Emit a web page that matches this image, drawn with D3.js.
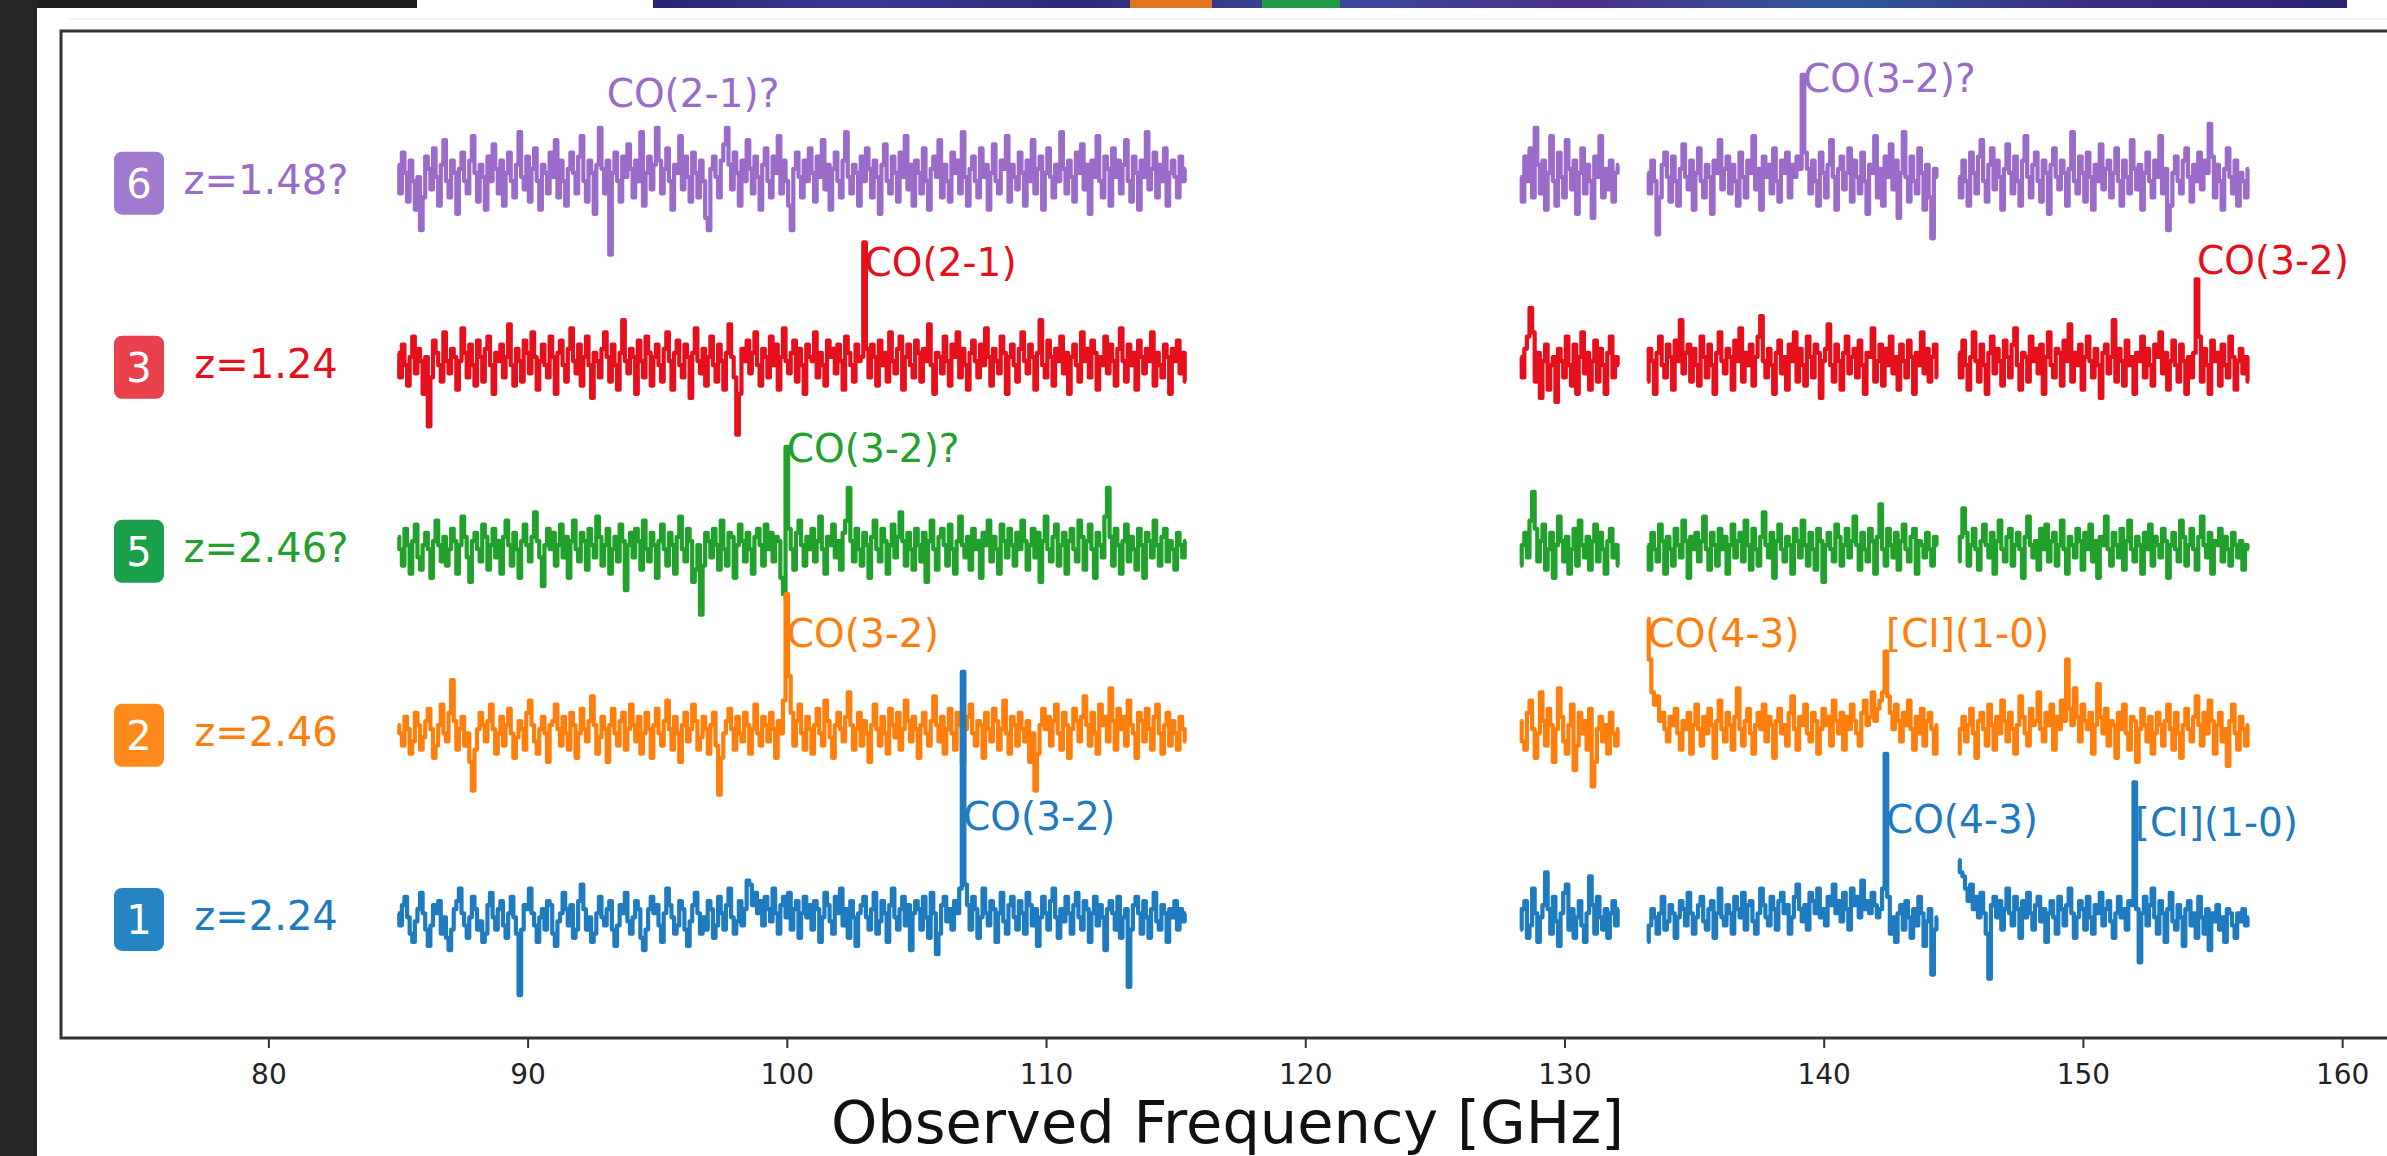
<!DOCTYPE html>
<html>
<head>
<meta charset="utf-8">
<script src="https://cdn.jsdelivr.net/npm/d3@7"></script>
<style>
  html, body { margin: 0; padding: 0; background: #ffffff; overflow: hidden; }
  svg text { font-family: "DejaVu Sans", sans-serif; }
</style>
</head>
<body>
<svg id="chart" width="2387" height="1156"></svg>
<script>
// Channel grid: start frequency of each observed window (GHz) and channel width
const windowStarts = [85.0, 128.3, 133.2, 145.2];
const channelWidth = 0.1;

// Sources, top to bottom
const sources = ["6", "3", "5", "2", "1"];
const redshifts = ["z=1.48?", "z=1.24", "z=2.46?", "z=2.46", "z=2.24"];
const offsets = [180, 135, 90, 45, 0];
const lineColors = ["#9a6bc9", "#e5101c", "#22a02c", "#ff7f0e", "#1f7bbf"];
const badgeColors = ["#9f7ace", "#e8414b", "#1aa04a", "#ff8a1c", "#2585c3"];

const xTicks = [80, 90, 100, 110, 120, 130, 140, 150, 160];

// ---- flux density (arbitrary units), one array per source and window ----
// source 6
const s6w1 = [5,-2,8,3,-4,6,1,-6,2,-11,-3,7,4,-1,9,2,-5,5,11,1,
  -3,6,3,-7,4,8,1,-2,6,12,3,-4,5,2,-6,7,1,10,4,-2,
  6,-5,3,8,1,-3,5,13,2,-1,7,-4,4,9,1,-6,5,3,-2,8,
  2,11,-3,6,1,-5,4,8,3,-2,7,12,1,-4,6,3,-7,5,14,4,
  -2,6,-17,3,8,1,-4,7,2,10,4,-3,6,1,13,-5,3,7,-1,5,
  14,6,-2,4,9,1,-6,5,3,12,-1,7,2,-4,8,3,-3,6,1,-8,
  -11,4,7,2,-3,6,10,14,5,-1,8,3,-5,6,1,11,4,-2,7,2,
  -6,5,9,1,-3,7,3,12,-2,6,1,-5,-11,4,8,2,-3,6,1,9,
  3,-4,7,2,11,-1,5,-6,4,8,1,-3,6,13,2,-2,5,3,-5,7,
  1,9,4,-3,6,2,-7,5,10,1,-2,7,3,-4,8,2,12,-1,5,-5,
  6,3,-2,9,1,-6,4,7,2,11,-3,5,1,-4,8,3,6,-2,13,2,
  -5,4,7,1,-3,9,2,5,-6,3,10,1,-2,6,4,12,-4,5,2,-1,
  8,3,-5,6,1,11,-2,4,7,-6,3,9,2,-3,5,1,13,4,-2,6,
  2,-4,8,3,10,-1,5,-7,6,2,12,1,-3,7,4,-5,9,2,6,-2,
  5,11,1,-4,7,3,-6,6,2,13,-1,4,8,-3,5,1,9,-5,3,6,
  2,-3,7,1,4];
const s6w2 = [2,-4,7,1,9,-3,14,5,-2,6,-6,3,12,1,-5,8,2,-3,11,4,-1,6,-7,3,9,-2,5,1,-8,7,2,12,-3,4,-1,6,-4,3,5];
const s6w3 = [3,-2,6,1,-12,-3,5,8,2,-4,7,1,-5,4,10,2,-1,6,-6,3,
  9,1,-3,5,2,-7,6,3,11,-1,4,7,-2,5,1,-5,8,2,-3,6,
  3,12,-1,4,-6,7,2,5,-2,9,1,-4,6,3,8,-3,5,2,7,4,
  27,8,4,-2,6,1,-5,8,3,-3,5,11,2,-6,4,7,-1,3,9,-4,
  6,2,-2,8,1,-7,5,3,12,-3,4,-5,7,2,10,-1,6,-8,3,13,
  2,-4,7,1,-2,9,3,-6,5,-3,-13,4,2];
const s6w4 = [2,-3,6,1,-5,8,3,-2,7,11,1,-4,5,9,-1,6,2,-6,4,10,
  3,-2,7,1,-5,6,12,2,-3,5,8,1,-4,6,3,-7,5,9,2,-1,
  6,3,-5,4,13,1,-2,7,3,-4,8,2,-6,5,1,10,-1,4,6,-3,
  3,9,1,-5,6,2,-2,11,4,-1,5,-6,3,8,1,-3,6,2,12,-2,
  4,-11,-5,3,7,1,-2,6,9,2,-4,5,1,8,-1,6,3,15,7,-3,
  5,1,-6,4,9,2,-2,6,-5,3,1,-3,4];

// source 3
const s3w1 = [4,-2,6,1,-4,3,8,-1,5,2,-6,3,-14,-2,7,4,1,-3,9,2,
  -1,5,3,-5,2,10,4,-2,6,1,-4,7,3,-3,5,8,1,-6,4,2,
  6,-2,3,11,1,-4,5,2,-3,7,4,-1,9,3,-5,2,6,1,-2,8,
  3,-6,4,7,1,-3,5,10,2,-1,6,-4,3,8,1,-7,4,2,-2,5,
  9,3,-3,6,1,-5,4,12,2,-1,5,3,-6,7,2,-2,8,4,-4,3,
  6,1,-3,5,9,2,-5,4,7,1,-2,6,3,-7,4,10,2,-1,5,-4,
  3,8,1,-3,6,2,-5,4,11,3,-2,-16,-6,5,2,7,-1,4,9,1,
  -4,5,3,-2,8,1,6,-5,3,10,2,-1,4,7,-3,5,1,-6,6,3,
  2,9,-2,4,1,-4,7,3,5,-1,6,2,-5,8,4,1,-3,6,2,3,
  31,5,-2,6,3,-4,7,1,4,-3,9,2,-1,5,8,-5,3,6,1,-2,
  7,4,-3,5,2,11,1,-6,4,3,-1,8,2,-4,6,3,9,-2,5,1,
  -5,4,7,2,-2,6,1,10,3,-4,5,2,-1,8,4,-6,3,6,1,-3,
  5,9,2,-1,6,3,-5,4,12,1,-2,7,3,-4,5,2,8,-1,4,-6,
  3,6,1,-3,9,2,5,-2,7,4,-5,3,1,8,-1,6,2,-4,5,10,
  2,-3,6,1,4,-5,7,3,-1,5,2,9,-4,4,1,-2,6,3,-6,5,
  2,7,-1,4,-3];
const s3w2 = [3,-2,5,8,15,9,-3,4,-7,2,6,-5,1,3,-8,5,2,-2,8,1,-4,6,-6,3,9,-1,4,-5,2,7,-3,5,1,-6,4,8,-2,3,1];
const s3w3 = [-3,5,2,-6,4,8,1,-2,6,3,-5,7,2,12,-1,4,6,-3,5,1,
  -4,8,3,-2,6,1,-6,4,9,2,-1,5,3,-5,7,2,10,-3,4,1,
  6,-4,3,8,13,2,-2,5,1,-6,4,7,-1,3,-5,6,2,9,-3,5,
  1,-4,8,3,-2,6,4,-7,2,5,11,1,-3,6,2,-5,4,8,-1,3,
  5,-2,7,1,-6,4,3,10,-3,2,6,-4,5,1,8,-1,3,-5,6,2,
  -2,7,3,-6,4,1,9,-1,5,-3,3,6,-2];
const s3w4 = [4,-2,7,1,-5,3,9,2,-3,6,1,-6,4,8,-1,5,2,-4,7,3,
  -2,6,10,1,-5,4,3,-3,8,2,5,-1,6,-6,3,9,1,-2,5,4,
  -4,7,2,11,-3,4,1,6,-5,3,8,2,-2,5,1,-7,4,6,-1,3,
  12,-3,5,2,-4,7,1,3,-6,4,2,8,-2,5,1,-4,6,3,9,-1,
  4,-5,2,7,1,-3,6,2,-6,3,-2,4,22,8,-3,5,1,-6,7,2,
  4,-4,6,1,-2,8,3,-5,2,5,-1,3,-3];

// source 5
const s5w1 = [4,1,-3,6,2,-5,3,7,-1,-4,2,5,1,-6,3,8,2,-2,4,-3,
  1,6,3,-5,2,9,4,-1,-7,3,5,1,-2,7,4,-4,2,6,-1,3,
  -5,4,8,2,-3,5,1,-6,3,7,2,-2,4,10,3,-1,-8,2,6,1,
  5,-3,2,7,-1,4,-6,3,8,1,-2,5,3,-4,6,2,-1,9,4,-3,
  2,6,-5,1,4,-2,7,3,-9,2,5,-1,6,3,-4,8,1,-2,5,2,
  -6,3,7,1,-3,5,2,-5,4,9,1,-2,6,3,-7,-4,2,-15,-3,5,
  3,-1,6,2,-4,8,1,-3,5,4,-6,2,7,3,-2,5,1,-5,4,6,
  2,-3,7,1,5,-2,4,3,-6,-10,26,6,1,-4,5,8,2,-3,4,1,
  6,-2,3,9,1,-5,4,2,7,-1,3,-4,5,8,16,3,-2,6,1,-3,
  5,2,-6,4,8,1,-2,6,3,-5,2,7,-1,4,10,3,-3,5,1,-4,
  6,2,-2,5,-7,3,8,1,-4,4,6,2,-3,7,1,-5,3,9,2,-1,
  4,-4,6,1,3,-6,5,2,8,-2,4,1,-5,7,3,-1,6,2,-3,5,
  1,8,3,-4,2,6,-1,5,-7,3,9,1,-2,4,7,-3,2,5,-5,3,
  6,1,-2,8,4,-4,3,7,1,-6,5,2,-1,9,16,4,-3,6,2,-5,
  3,7,-2,4,1,-4,6,2,-6,5,3,-1,8,2,-3,4,6,-2,3,1,
  -4,5,2,-1,3];
const s5w2 = [-3,2,5,-1,8,15,6,-2,3,7,-4,1,5,-6,2,9,3,-2,4,-5,1,6,-3,8,2,-1,4,-4,3,7,-2,5,1,-5,3,6,-1,2,-3];
const s5w3 = [2,-4,5,1,-2,7,3,-5,4,1,-3,6,2,-1,8,3,-6,4,1,5,
  -2,3,9,1,-4,5,2,-3,6,1,4,-5,2,7,-1,3,5,-2,8,2,
  -4,6,1,-3,4,10,2,-1,5,-6,3,7,1,-2,4,2,-5,6,3,-1,
  8,2,-3,5,1,-4,6,3,-7,2,5,1,-2,7,4,-3,2,6,-1,3,
  9,2,-4,5,1,-2,6,3,-5,4,12,1,-3,6,2,-1,5,-4,3,7,
  1,-2,4,6,-5,3,2,-1,5,1,-3,4,2];
const s5w4 = [-2,4,11,5,-3,2,6,1,-4,3,7,2,-1,5,-5,3,8,1,-2,4,
  6,-3,2,5,1,-6,4,9,2,-1,3,-4,6,1,7,-2,3,5,-3,2,
  8,1,-5,4,2,-1,6,3,-4,5,1,7,-2,3,-6,4,2,9,1,-3,
  5,2,-1,6,-4,3,8,1,-2,4,2,-5,5,1,7,-3,4,2,-1,6,
  3,-6,2,5,1,-2,8,4,-3,2,6,1,-4,4,9,2,-1,5,-5,3,
  2,6,-2,4,1,-3,5,2,-1,3,-4,2,1];

// source 2
const s2w1 = [3,1,-2,5,2,-4,-1,6,3,-3,0,4,7,2,-5,-2,3,8,1,-1,
  6,14,4,-3,2,5,-2,1,-6,-13,-3,2,6,3,-1,4,8,2,-4,1,
  5,-2,3,7,1,-5,0,4,2,-3,6,9,3,-1,-4,2,5,1,-6,3,
  4,8,2,-2,5,1,-3,6,3,-5,1,7,2,-1,4,10,3,-4,0,5,
  2,-6,3,7,1,-2,4,6,-3,2,8,3,-1,5,-4,1,6,2,-5,3,
  7,1,-2,4,9,2,-3,5,1,-6,3,6,-1,2,8,4,-3,0,5,2,
  -4,3,6,-2,-14,-5,1,4,7,2,-3,5,1,-1,6,3,-4,2,8,1,
  -2,5,3,-1,6,2,-5,4,1,9,35,15,6,-2,4,8,1,-3,5,2,
  -4,3,7,1,-2,9,4,0,-5,3,6,2,-1,5,11,3,-3,2,6,-2,
  4,1,-6,3,8,2,-2,5,1,-4,7,3,0,6,-3,2,9,4,-1,5,
  2,-5,3,6,1,-2,4,10,3,-1,5,-4,2,7,1,-3,6,3,-6,2,
  5,8,1,-2,4,3,-5,6,2,-1,7,4,-3,2,9,1,-4,5,3,-2,
  6,2,-1,4,-6,1,-13,-4,3,7,2,5,-2,4,8,1,-3,6,3,-5,
  2,7,4,-1,5,10,3,-2,6,1,-4,8,3,5,-1,12,4,-3,7,2,
  5,-2,9,3,1,-5,6,4,-1,7,2,-3,5,8,1,-4,3,6,-2,4,
  1,-3,5,2,-1];
const s2w2 = [4,-1,-3,6,9,2,-5,1,11,4,-2,7,3,-6,2,12,5,-1,-4,3,8,-8,-2,6,1,4,-3,7,-12,-6,2,5,-1,3,-4,6,1,-2,2];
const s2w3 = [29,19,11,8,10,4,6,2,-1,5,3,7,1,-3,4,2,6,-4,3,8,
  2,-2,5,1,7,3,-5,4,9,2,-1,6,3,-3,5,12,2,-2,4,7,
  1,-4,3,6,2,8,-1,5,3,-5,4,7,1,3,-2,6,10,2,-3,5,
  3,8,1,-1,6,4,-4,2,7,3,5,-2,9,4,1,6,-3,5,2,8,
  4,1,-2,6,9,3,5,11,4,7,9,11,21,10,6,2,8,4,-1,6,
  3,9,2,-3,5,1,7,-2,4,6,2,-4,3];
const s2w4 = [-4,2,5,-1,3,7,1,-5,4,6,2,-2,8,3,-3,5,1,9,4,-1,
  6,2,-4,3,10,5,1,-2,7,3,4,11,2,-1,6,3,8,-3,5,2,
  9,4,19,7,3,12,5,-1,8,4,2,6,-4,3,13,5,1,7,-2,4,
  3,-5,6,2,8,1,-3,5,4,-6,2,7,3,-1,5,-4,1,6,3,-2,
  4,8,2,-3,6,1,-5,3,7,2,-1,5,10,3,-2,6,1,9,4,-4,
  3,6,-1,2,-7,4,8,1,-3,5,2,-2,3];

// source 1
const s1w1 = [2,-1,4,6,1,-3,-5,0,3,7,2,-2,-6,-1,4,2,5,-3,1,-4,
  -7,-2,3,5,8,2,-1,-4,1,6,3,-2,0,-5,-3,4,7,1,-2,3,
  5,-1,-4,2,6,1,-3,-18,-2,4,3,8,2,-1,-5,1,3,-2,5,4,
  -3,-6,0,2,7,3,-1,4,-4,-2,5,9,3,-2,1,-5,-3,2,6,1,
  -1,3,5,-2,-6,-1,4,2,7,0,-3,1,5,3,-4,-7,-2,3,6,2,
  4,-1,-5,2,8,4,1,-3,-1,5,3,-2,-6,0,4,7,2,-3,1,-2,
  5,3,-4,-1,6,2,-2,4,8,1,-3,0,5,-1,3,10,9,4,7,2,
  5,-1,6,3,0,8,2,-3,4,6,1,7,-2,3,5,-4,2,6,1,4,
  -2,5,3,-5,1,7,4,0,-3,6,2,8,-1,3,-4,5,1,-6,2,4,
  6,1,-2,3,7,-3,0,5,2,-5,4,8,1,-2,3,6,-1,4,-7,2,
  5,3,-2,6,1,-4,7,2,-8,-3,4,6,0,3,-2,5,2,8,61,9,
  4,-2,6,3,-4,1,8,2,-1,5,3,-5,2,7,0,-3,4,6,1,-2,
  5,2,-3,7,4,-1,3,-6,1,6,2,-2,5,8,1,-4,3,0,6,2,
  -3,4,7,1,-2,5,3,-5,2,6,-1,4,1,-7,3,5,2,-2,6,-4,
  1,3,-16,-2,4,6,2,-3,5,1,-4,3,7,0,-2,4,2,-5,3,1,
  5,-2,3,0,2];
const s1w2 = [-2,3,5,-4,-1,8,2,-5,1,4,12,3,-3,6,0,-6,2,7,9,-2,3,-4,1,5,-1,-5,2,11,4,-3,6,1,-2,3,-4,2,5,-1,3];
const s1w3 = [-5,-1,3,1,-3,2,6,-2,0,4,2,-4,1,5,3,-1,7,2,-3,1,
  4,6,0,-2,3,5,-4,2,8,1,-1,4,2,-3,6,3,1,7,-2,4,
  5,0,-3,2,8,4,1,-1,6,3,-2,5,7,2,4,-3,1,6,9,3,
  0,4,-2,7,5,2,8,1,3,-1,6,4,9,2,5,0,7,3,-2,8,
  4,6,1,10,3,5,2,7,4,1,3,8,41,6,-3,1,-5,2,4,-2,
  5,1,-4,3,-1,6,2,-6,0,3,-13,-2,1];
const s1w4 = [15,12,11,8,5,9,3,6,1,7,2,-3,-14,4,6,1,5,-2,3,8,
  2,-1,6,3,-4,5,1,7,2,-2,4,6,0,3,-5,2,5,1,-3,6,
  3,-1,4,8,2,-4,1,5,3,-2,6,1,-3,4,2,7,-1,3,5,0,
  -4,2,6,1,3,-2,5,4,34,3,-10,2,6,-1,4,8,1,-3,5,2,
  -5,3,7,0,-2,4,1,-6,3,5,-1,2,-4,6,1,-3,3,-7,2,0,
  4,-2,1,-5,3,2,-1,-4,2,0,3,-1,1];

const spectra = [
  [s6w1, s6w2, s6w3, s6w4],
  [s3w1, s3w2, s3w3, s3w4],
  [s5w1, s5w2, s5w3, s5w4],
  [s2w1, s2w2, s2w3, s2w4],
  [s1w1, s1w2, s1w3, s1w4]
];

// Line identifications
const annoSource = ["6", "6", "3", "3", "5", "2", "2", "2", "1", "1", "1"];
const annoText = ["CO(2-1)?", "CO(3-2)?", "CO(2-1)", "CO(3-2)", "CO(3-2)?", "CO(3-2)", "CO(4-3)", "[CI](1-0)", "CO(3-2)", "CO(4-3)", "[CI](1-0)"];
const annoFreq = [93.05, 139.2, 103.0, 154.4, 100.0, 100.0, 133.2, 142.4, 106.8, 142.4, 152.0];
const annoHeight = [19.2, 22.9, 22.7, 23.2, 22.3, 22.0, 22.0, 22.0, 22.3, 21.5, 21.0];

// ---- drawing ----
const svg = d3.select("#chart");
const W = 2387, H = 1156;

// page surroundings
svg.append("rect").attr("x", 0).attr("y", 0).attr("width", W).attr("height", H).attr("fill", "#ffffff");
svg.append("rect").attr("x", 0).attr("y", 0).attr("width", 37).attr("height", H).attr("fill", "#252525");
svg.append("rect").attr("x", 37).attr("y", 0).attr("width", 380).attr("height", 8).attr("fill", "#1f1f1f");
const defs = svg.append("defs");
const grad = defs.append("linearGradient").attr("id", "strip").attr("x1", "0").attr("x2", "1");
[["0", "#2b2470"], ["0.12", "#3f3596"], ["0.25", "#2d2a78"], ["0.4", "#3a4a9c"], ["0.55", "#4b2f8c"],
 ["0.7", "#2f5a9a"], ["0.85", "#3b2c82"], ["1", "#2a2470"]].forEach(([o, c]) =>
  grad.append("stop").attr("offset", o).attr("stop-color", c));
svg.append("rect").attr("x", 653).attr("y", 0).attr("width", 1694).attr("height", 8).attr("fill", "url(#strip)");
svg.append("rect").attr("x", 1130).attr("y", 0).attr("width", 82).attr("height", 8).attr("fill", "#e2761e");
svg.append("rect").attr("x", 1262).attr("y", 0).attr("width", 78).attr("height", 8).attr("fill", "#1f9b45");
svg.append("line").attr("x1", 70).attr("x2", W).attr("y1", 19).attr("y2", 19)
  .attr("stroke", "#ececec").attr("stroke-width", 1.5);

// scales
const x = d3.scaleLinear().domain([72, 162]).range([61, 2394]);
const y = d3.scaleLinear().domain([-28.5, 217.7]).range([1038, 31]);

// spectra are drawn as mid-point steps
const lineGen = d3.line().curve(d3.curveStep).x(d => x(d.f)).y(d => y(d.v));
const plot = svg.append("g");

// each source: one path per observed window, shifted by its offset
sources.forEach((s, si) => {
  const off = offsets[si];
  spectra[si].forEach((vals, wi) => {
    const pts = vals.map((v, i) => ({ f: windowStarts[wi] + i * channelWidth, v: v + off }));
    plot.append("path")
      .datum(pts)
      .attr("d", lineGen)
      .attr("fill", "none")
      .attr("stroke", lineColors[si])
      .attr("stroke-width", 4.2)
      .attr("stroke-linejoin", "round");
  });
});

// line labels
annoText.forEach((t, i) => {
  const si = sources.indexOf(annoSource[i]);
  svg.append("text")
    .attr("x", x(annoFreq[i]))
    .attr("y", y(offsets[si] + annoHeight[i]))
    .attr("fill", lineColors[si])
    .attr("font-size", 39)
    .text(t);
});

// source badges and redshift labels
sources.forEach((s, si) => {
  const cy = y(offsets[si]);
  svg.append("rect")
    .attr("x", 114).attr("y", cy - 33.5).attr("width", 50).attr("height", 63)
    .attr("rx", 8).attr("fill", badgeColors[si]);
  svg.append("text")
    .attr("x", 139).attr("y", cy + 12.5)
    .attr("text-anchor", "middle").attr("fill", "#ffffff").attr("font-size", 40)
    .text(s);
  svg.append("text")
    .attr("x", 266).attr("y", cy + 9)
    .attr("text-anchor", "middle").attr("fill", lineColors[si]).attr("font-size", 40)
    .text(redshifts[si]);
});

// frame
svg.append("rect")
  .attr("x", 61).attr("y", 31).attr("width", 2394 - 61).attr("height", 1038 - 31)
  .attr("fill", "none").attr("stroke", "#333333").attr("stroke-width", 3);

// x axis
const axis = svg.append("g").attr("transform", "translate(0,1038)")
  .call(d3.axisBottom(x).tickValues(xTicks).tickSize(10).tickPadding(16).tickFormat(d3.format("d")));
axis.select(".domain").remove();
axis.selectAll(".tick line").attr("stroke", "#333333").attr("stroke-width", 2);
axis.selectAll(".tick text").attr("fill", "#222222").attr("font-size", 28)
  .attr("font-family", "DejaVu Sans, sans-serif");

svg.append("text")
  .attr("x", (61 + 2394) / 2).attr("y", 1143)
  .attr("text-anchor", "middle").attr("fill", "#111111").attr("font-size", 59)
  .text("Observed Frequency [GHz]");
</script>
</body>
</html>
